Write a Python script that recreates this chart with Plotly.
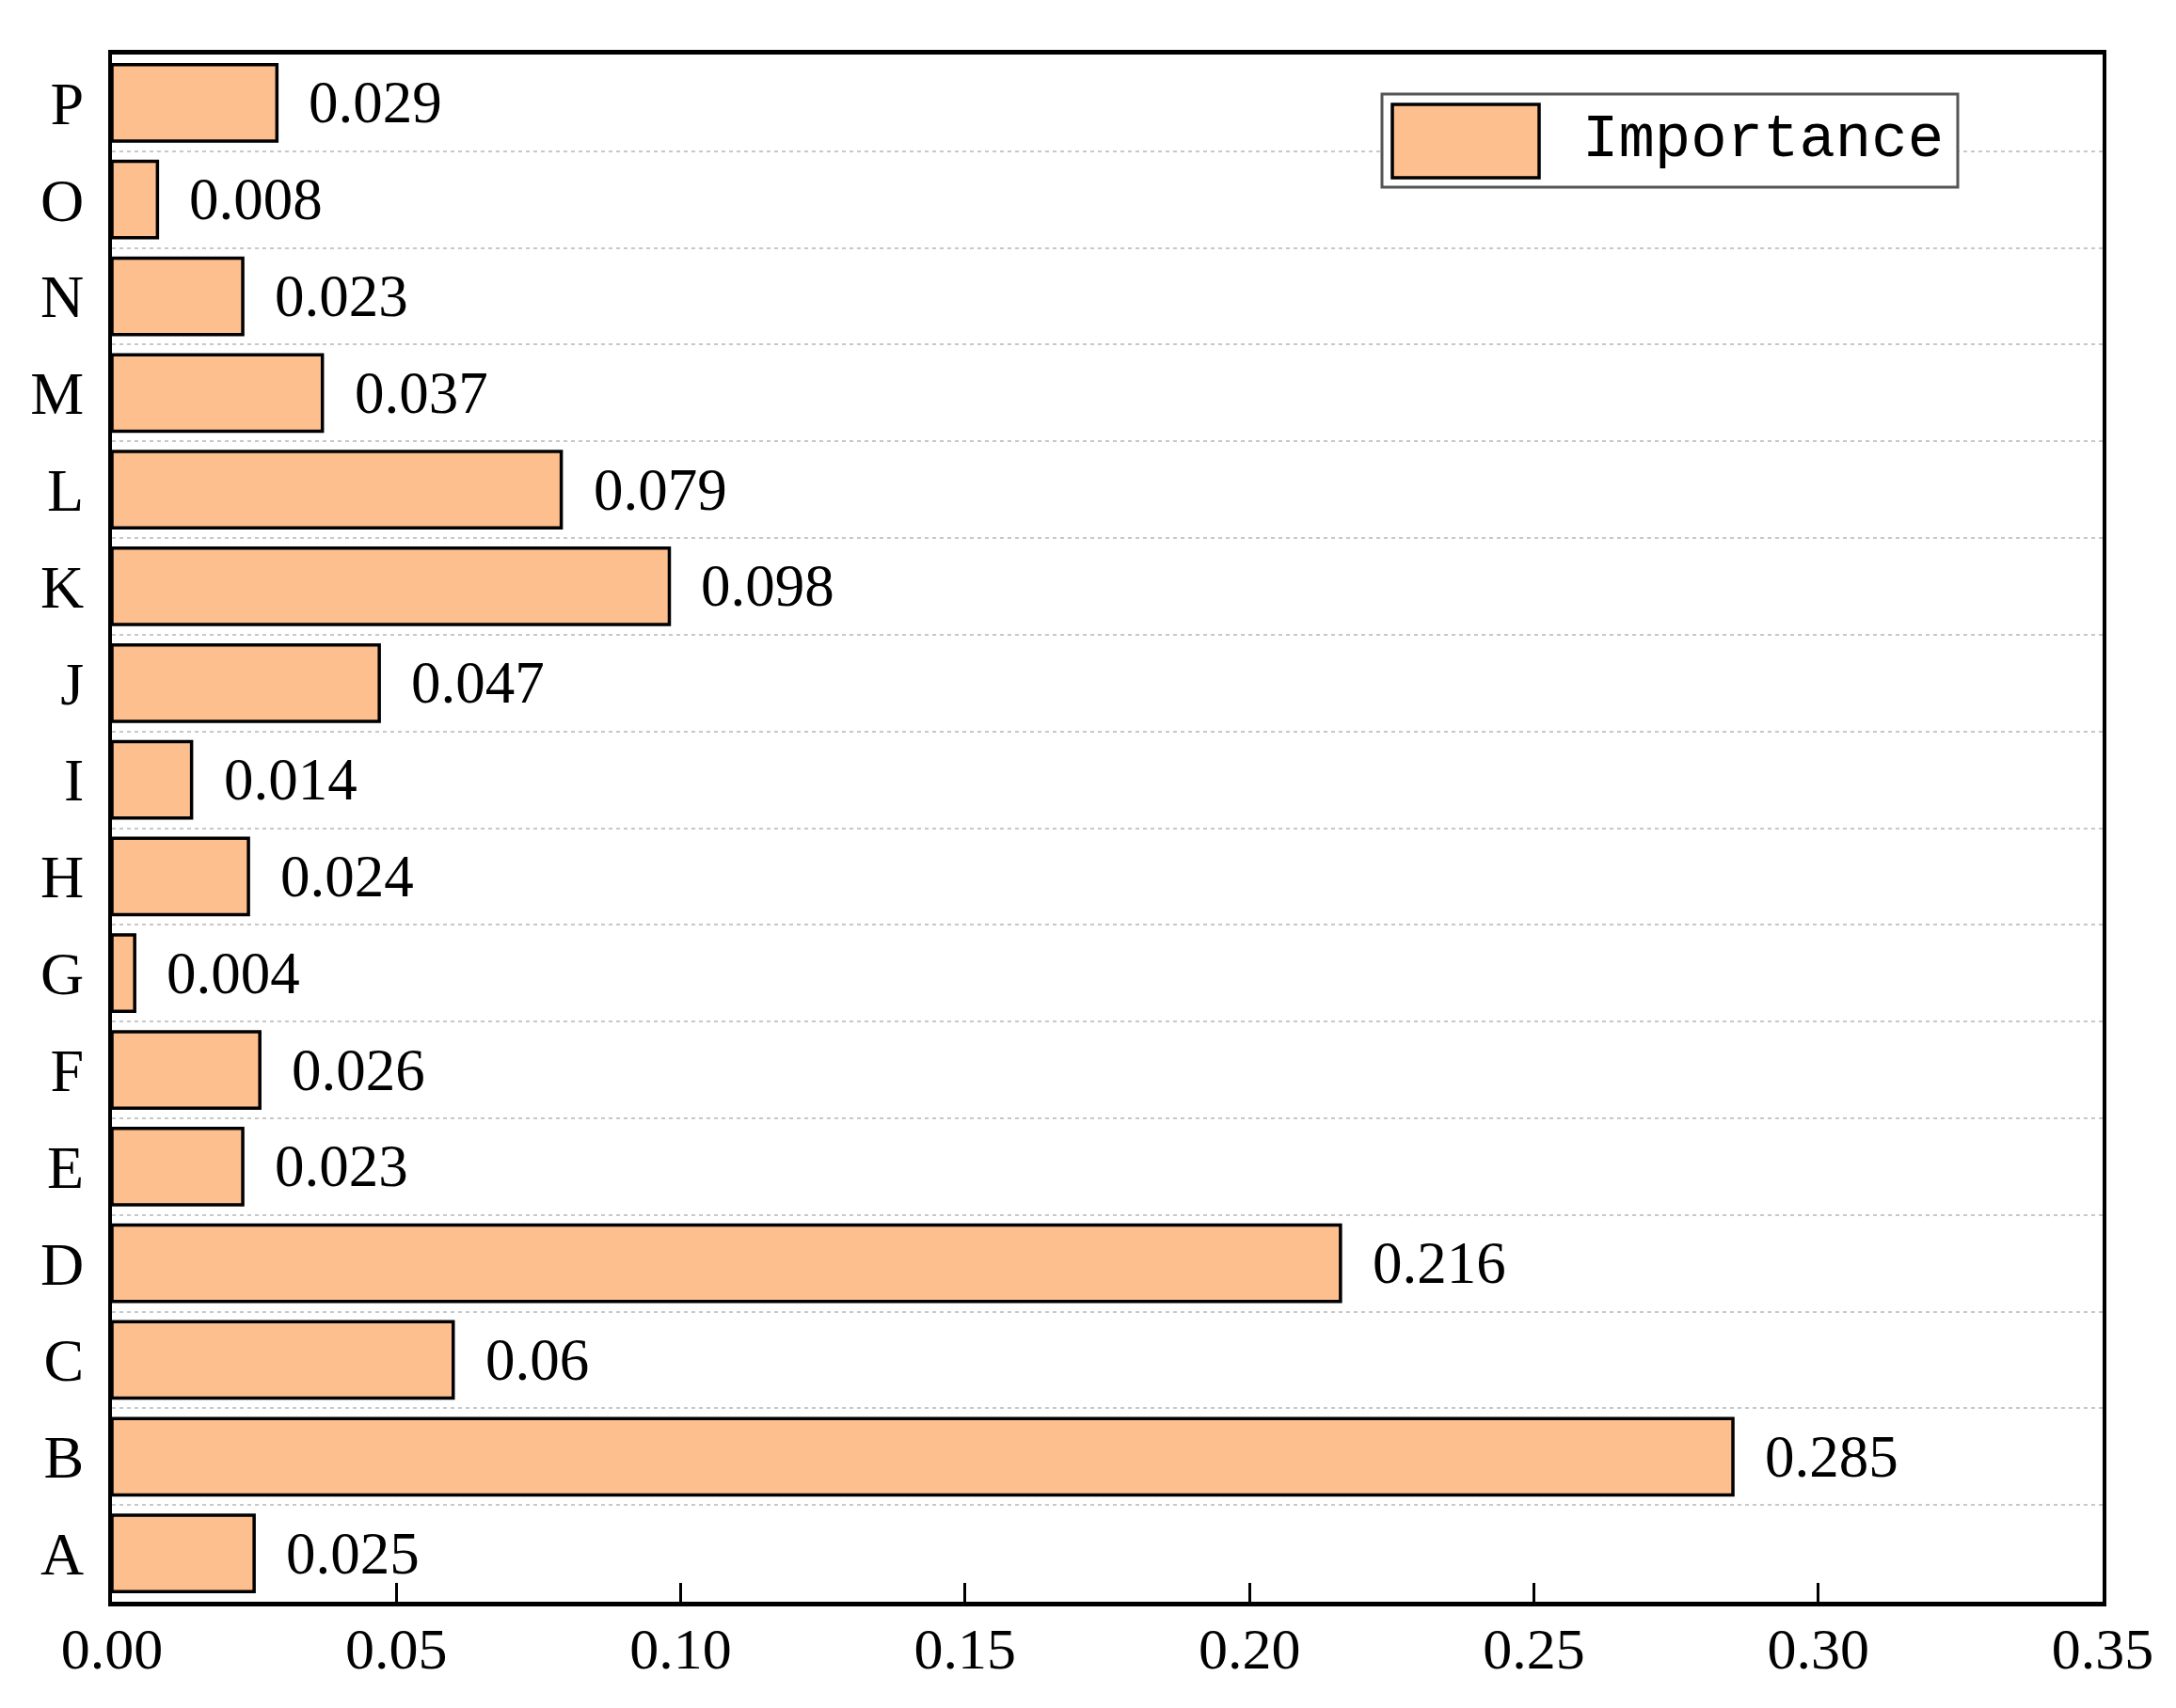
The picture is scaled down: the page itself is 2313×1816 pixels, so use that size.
import plotly.graph_objects as go

categories = ["A", "B", "C", "D", "E", "F", "G", "H", "I", "J", "K", "L", "M", "N", "O", "P"]
importance = [0.025, 0.285, 0.06, 0.216, 0.023, 0.026, 0.004, 0.024, 0.014, 0.047,
              0.098, 0.079, 0.037, 0.023, 0.008, 0.029]
x_ticks = [0.00, 0.05, 0.10, 0.15, 0.20, 0.25, 0.30, 0.35]
x_tick_labels = ["0.00", "0.05", "0.10", "0.15", "0.20", "0.25", "0.30", "0.35"]
series_name = "Importance"

W, H = 2313, 1816
ML, MR, MT, MB = 111, 86, 50, 121
PW, PH = W - ML - MR, H - MT - MB

def px_x(px):
    return (px - ML) / PW

def px_y(py):
    return 1 - (py - MT) / PH

bar_color = "#FEBF8F"
serif = "Liberation Serif, Times New Roman, serif"

fig = go.Figure()
fig.add_trace(go.Bar(
    x=importance, y=categories, orientation="h", name=series_name,
    marker=dict(color=bar_color, line=dict(color="black", width=3.5)),
    showlegend=False,
))

annotations = []
for c, v in zip(categories, importance):
    annotations.append(dict(
        x=v, y=c, xref="x", yref="y", text=f"{v:g}", showarrow=False,
        xanchor="left", yanchor="middle", xshift=32,
        font=dict(family=serif, size=63, color="black"),
    ))

# manual legend
annotations.append(dict(
    x=px_x(1672), y=px_y(141), xref="paper", yref="paper", text=series_name,
    showarrow=False, xanchor="left", yanchor="middle",
    font=dict(family="Liberation Mono, monospace", size=64, color="black"),
))
shapes = [
    dict(type="rect", xref="paper", yref="paper",
         x0=px_x(1461), x1=px_x(2073), y0=px_y(92), y1=px_y(191),
         line=dict(color="#555555", width=3), fillcolor="white", layer="above"),
    dict(type="rect", xref="paper", yref="paper",
         x0=px_x(1472), x1=px_x(1628), y0=px_y(103), y1=px_y(181),
         line=dict(color="black", width=3.5), fillcolor=bar_color, layer="above"),
]

fig.update_layout(
    width=W, height=H,
    margin=dict(l=ML, r=MR, t=MT, b=MB, pad=0),
    paper_bgcolor="white", plot_bgcolor="white",
    bargap=0.21,
    annotations=annotations, shapes=shapes,
    font=dict(family=serif, size=63, color="black"),
    xaxis=dict(
        automargin=False,
        range=[0, 0.35], tickvals=x_ticks, ticktext=x_tick_labels,
        ticks="inside", ticklen=20, tickwidth=3, tickcolor="black",
        showline=True, linecolor="black", linewidth=5, mirror=True,
        showgrid=False, zeroline=False,
        tickfont=dict(family=serif, size=62, color="black"),
        ticklabelstandoff=-8,
    ),
    yaxis=dict(
        automargin=False,
        type="category", categoryorder="array", categoryarray=categories,
        range=[-0.5, 15.5],
        tickson="boundaries", ticks="",
        showline=True, linecolor="black", linewidth=4, mirror=True,
        showgrid=True, gridcolor="#c8c8c8", gridwidth=2, griddash="4px,4px",
        zeroline=False,
        tickfont=dict(family=serif, size=64, color="black"),
        ticklabelstandoff=13,
    ),
)

fig.write_html("out.html")
